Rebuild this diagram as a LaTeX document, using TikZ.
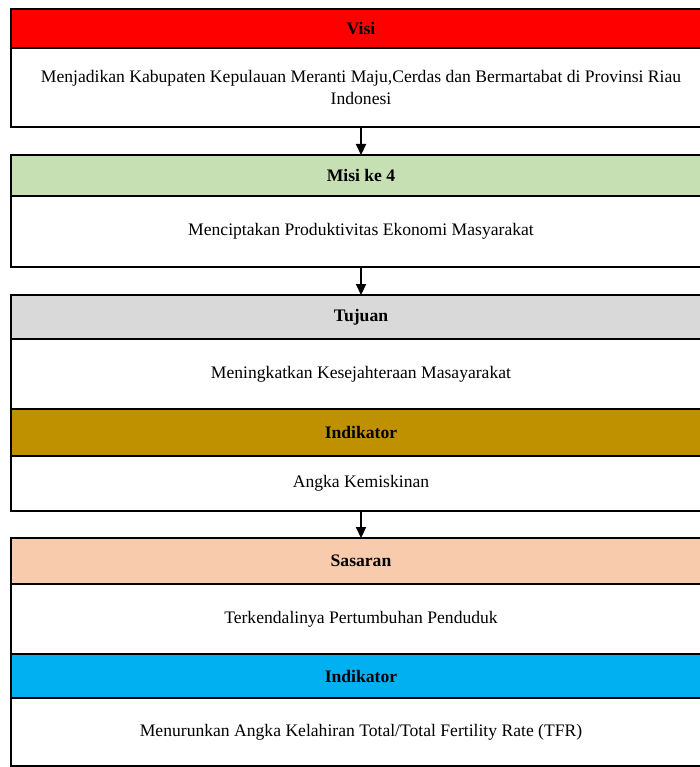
\documentclass[tikz,border=0pt]{standalone}
\usepackage{fontspec}
\setmainfont{Liberation Serif}
\usetikzlibrary{arrows.meta}
\definecolor{cvisi}{HTML}{FF0000}
\definecolor{cmisi}{HTML}{C6E0B4}
\definecolor{ctuj}{HTML}{D9D9D9}
\definecolor{cind}{HTML}{BF9000}
\definecolor{csas}{HTML}{F8CBAD}
\definecolor{cind2}{HTML}{00B0F0}
\tikzset{
  seg/.style={draw=black, line width=1.6pt, rectangle, inner sep=0pt, outer sep=0pt,
    minimum width=700pt, anchor=north west, align=center,
    font=\fontsize{17.6}{22}\selectfont},
  headseg/.style={seg, font=\fontsize{17.6}{22}\selectfont\bfseries},
  flow/.style={line width=2.2pt, -{Triangle[length=11pt,width=10pt]}},
}
\begin{document}
\begin{tikzpicture}[x=1pt,y=-1pt]
\useasboundingbox (0,0) rectangle (700,767);
% Box 1
\node[headseg, fill=cvisi, minimum height=39pt] (h1) at (11,9) {Visi};
\node[seg, fill=white, minimum height=79pt] (b1) at (11,48) {Menjadikan Kabupaten Kepulauan Meranti Maju,Cerdas dan Bermartabat di Provinsi Riau\\Indonesi};
% Box 2
\node[headseg, fill=cmisi, minimum height=41pt] (h2) at (11,155) {Misi ke 4};
\node[seg, fill=white, minimum height=71pt] (b2) at (11,196) {Menciptakan Produktivitas Ekonomi Masyarakat};
% Box 3
\node[headseg, fill=ctuj, minimum height=44pt] (h3) at (11,295) {Tujuan};
\node[seg, fill=white, minimum height=70pt] (b3) at (11,339) {Meningkatkan Kesejahteraan Masayarakat};
\node[headseg, fill=cind, minimum height=47pt] (h4) at (11,409) {Indikator};
\node[seg, fill=white, minimum height=55pt] (b4) at (11,456) {Angka Kemiskinan};
% Box 4
\node[headseg, fill=csas, minimum height=46pt] (h5) at (11,538) {Sasaran};
\node[seg, fill=white, minimum height=70pt] (b5) at (11,584) {Terkendalinya Pertumbuhan Penduduk};
\node[headseg, fill=cind2, minimum height=44pt] (h6) at (11,654) {Indikator};
\node[seg, fill=white, minimum height=68pt] (b6) at (11,698) {Menurunkan Angka Kelahiran Total/Total Fertility Rate (TFR)};
% arrows
\draw[flow] (b1.south) -- (h2.north);
\draw[flow] (b2.south) -- (h3.north);
\draw[flow] (b4.south) -- (h5.north);
\end{tikzpicture}
\end{document}
